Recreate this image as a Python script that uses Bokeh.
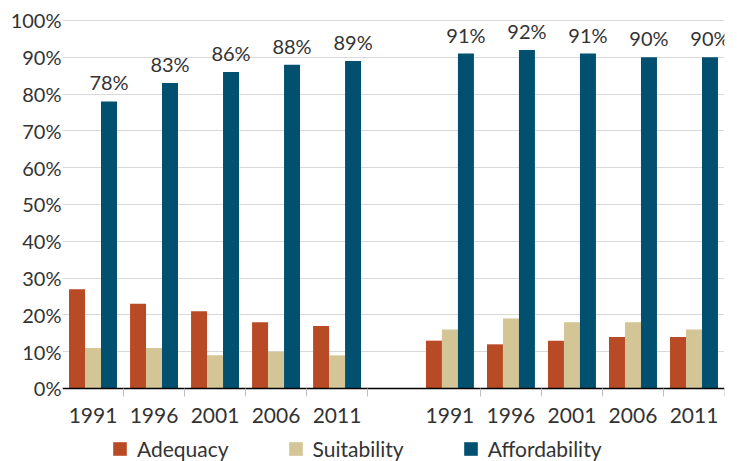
from bokeh.plotting import figure
from bokeh.models import (ColumnDataSource, FixedTicker, Range1d, Legend, LegendItem,
                          PrintfTickFormatter)
from bokeh.core.properties import value
from bokeh.transform import dodge
from bokeh.embed import file_html
from bokeh.resources import INLINE

# ---- data ----
years = ["1991", "1996", "2001", "2006", "2011"]
adequacy_left = [27, 23, 21, 18, 17]
suitability_left = [11, 11, 9, 10, 9]
affordability_left = [78, 83, 86, 88, 89]
adequacy_right = [13, 12, 13, 14, 14]
suitability_right = [16, 19, 18, 18, 16]
affordability_right = [91, 92, 91, 90, 90]
y_ticks = list(range(0, 101, 10))

# ---- layout constants ----
GAP = 0.85          # width of the empty slot between the two groups (in slot units)
BW = 0.262          # bar width
FONT = "Lato"
TXT = "#333333"
C_ADE = "#B94A26"
C_SUI = "#D3C595"
C_AFF = "#02506F"

n = len(years)
centers = [i + 0.5 for i in range(n)] + [n + GAP + i + 0.5 for i in range(n)]
bounds = [i + 1 for i in range(n)] + [n + GAP + i + 1 for i in range(n)]
labels = years + years

src = ColumnDataSource(dict(
    x=centers,
    ade=adequacy_left + adequacy_right,
    sui=suitability_left + suitability_right,
    aff=affordability_left + affordability_right,
    lab=[f"{v}%" for v in affordability_left + affordability_right],
))

# frame extends to the bottom of the page so the legend can live inside it;
# the x axis is pinned at y = 0
p = figure(width=739, height=461, output_backend="svg", toolbar_location=None,
           x_range=Range1d(0, 2 * n + GAP), y_range=Range1d(-19.84, 100.27),
           min_border_left=62, min_border_right=15, min_border_top=19,
           min_border_bottom=0)
p.outline_line_color = None
p.background_fill_color = "white"

r1 = p.vbar(x=dodge("x", -BW, range=p.x_range), top="ade", width=BW, source=src,
            fill_color=C_ADE, line_color=None)
r2 = p.vbar(x="x", top="sui", width=BW, source=src, fill_color=C_SUI, line_color=None)
r3 = p.vbar(x=dodge("x", BW, range=p.x_range), top="aff", width=BW, source=src,
            fill_color=C_AFF, line_color=None)

p.text(x=dodge("x", BW, range=p.x_range), y="aff", text="lab", source=src,
       text_align="center", text_baseline="bottom", y_offset=-7,
       text_font=value(FONT), text_font_size="20px", text_color=TXT)

# x axis
xa = p.xaxis[0]
xa.fixed_location = 0
xa.ticker = FixedTicker(ticks=centers, minor_ticks=bounds)
xa.major_label_overrides = {c: l for c, l in zip(centers, labels)}
xa.major_tick_line_color = None
xa.major_tick_out = 0
xa.major_tick_in = 0
xa.minor_tick_line_color = "#BFBFBF"
xa.minor_tick_out = 8
xa.minor_tick_in = 0
xa.axis_line_color = "black"
xa.axis_line_width = 1.5
xa.major_label_standoff = 12
xa.major_label_text_font = FONT
xa.major_label_text_font_size = "21px"
xa.major_label_text_color = TXT

# y axis
ya = p.yaxis[0]
ya.ticker = FixedTicker(ticks=y_ticks)
ya.formatter = PrintfTickFormatter(format="%d%%")
ya.axis_line_color = None
ya.major_tick_line_color = None
ya.minor_tick_line_color = None
ya.major_tick_out = 0
ya.major_tick_in = 0
ya.major_label_standoff = 1
ya.major_label_text_font = FONT
ya.major_label_text_font_size = "20px"
ya.major_label_text_color = TXT

p.xgrid.grid_line_color = None
p.ygrid.ticker = FixedTicker(ticks=y_ticks)
p.ygrid.grid_line_color = "#D9D9D9"
p.ygrid.grid_line_width = 1.2

legend = Legend(items=[LegendItem(label="Adequacy", renderers=[r1]),
                       LegendItem(label="Suitability", renderers=[r2]),
                       LegendItem(label="Affordability", renderers=[r3])],
                orientation="horizontal", location=(49, 0),
                label_text_font=FONT, label_text_font_size="21px",
                label_text_color=TXT, glyph_width=17, glyph_height=17,
                label_standoff=9, spacing=58, padding=2, margin=0,
                border_line_color=None, background_fill_alpha=0)
p.add_layout(legend, "center")

open("out.html", "w").write(file_html(p, INLINE))
